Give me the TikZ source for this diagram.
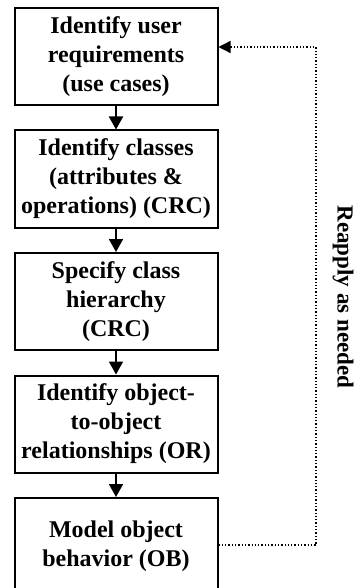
\documentclass[tikz,border=0pt]{standalone}
\usepackage{fontspec}
\setmainfont{Liberation Serif}
\usetikzlibrary{positioning,arrows.meta}

\begin{document}
\begin{tikzpicture}[x=1pt,y=-1pt,node distance=23.5pt,
  step box/.style={draw,line width=2pt,minimum width=203pt,minimum height=97pt,
    align=center,inner sep=2pt,font=\fontsize{24}{29}\selectfont\bfseries},
  flow/.style={line width=1.8pt,-{Triangle[width=14pt,length=13pt]}},
  loop/.style={line width=1.3pt,dotted,-{Triangle[width=12pt,length=12pt]}}]
  \useasboundingbox (0,0) rectangle (359,588);
  \node [step box] (req) at (116,56.5) {Identify user\\requirements\\(use cases)};
  \node [step box,below=of req] (cls) {Identify classes\\(attributes \&\\operations) (CRC)};
  \node [step box,below=of cls] (hier) {Specify class\\hierarchy\\(CRC)};
  \node [step box,below=of hier] (rel) {Identify object-\\to-object\\relationships (OR)};
  \node [step box,below=of rel] (beh) {Model object\\behavior (OB)};
  \draw [flow] (req) -- (cls);
  \draw [flow] (cls) -- (hier);
  \draw [flow] (hier) -- (rel);
  \draw [flow] (rel) -- (beh);
  \coordinate (c1) at (316,545);
  \coordinate (c2) at (316,47);
  \draw [loop] (beh.east |- c1) -- (c1) -- (c2) -- (req.east |- c2);
  \node [rotate=-90,font=\fontsize{23}{26}\selectfont\bfseries] (lbl) at (343,297) {Reapply as needed};
\end{tikzpicture}
\end{document}
